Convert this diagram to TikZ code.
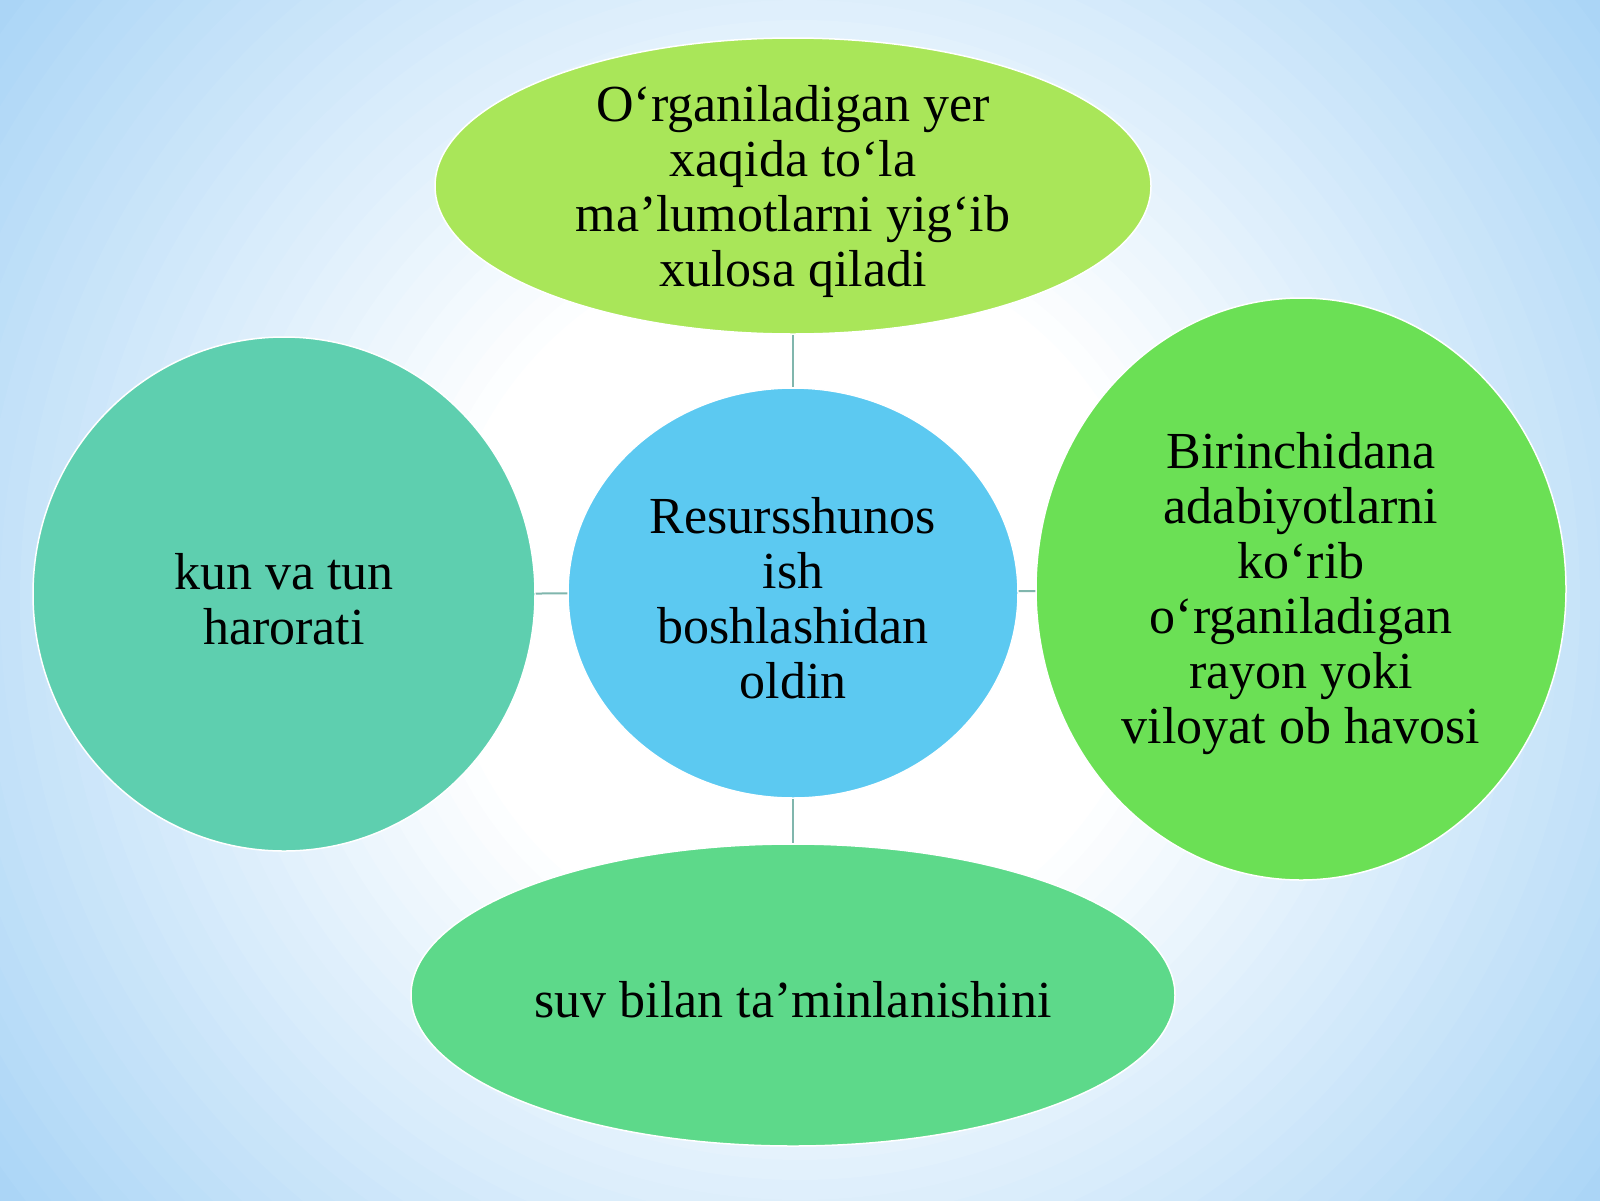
\documentclass[tikz,border=0pt]{standalone}
\usepackage{fontspec}
\setmainfont{Liberation Serif}
\usetikzlibrary{shapes.geometric}

\definecolor{limeF}{HTML}{A9E659}
\definecolor{skyF}{HTML}{5CC9F1}
\definecolor{tealF}{HTML}{5ECFAF}
\definecolor{grassF}{HTML}{6BE055}
\definecolor{mintF}{HTML}{5DD98A}
\definecolor{linkC}{HTML}{80B6AD}
\definecolor{bgEdge}{HTML}{96CBF4}

\begin{document}
\begin{tikzpicture}[x=1pt,y=-1pt,
    bubble/.style={ellipse,draw=white,line width=1.5pt,inner sep=0pt},
    words/.style={align=center,inner sep=0pt,yshift=-5pt,font=\fontsize{52}{55}\selectfont},
    link/.style={draw=linkC,line width=2pt}]
    \useasboundingbox (0,0) rectangle (1600,1200);
    % soft blue glow behind everything
    \begin{scope}
    \clip (0,0) rectangle (1600,1200);
    \fill[bgEdge] (0,0) rectangle (1600,1200);
    \foreach \i in {0,...,40}{
        \pgfmathsetmacro\rr{1.45-\i/40}
        \pgfmathsetmacro\pc{100*(\rr-0.45)}
        \fill[bgEdge!\pc!white] (800,600) ellipse [x radius=800*\rr, y radius=800*\rr];
    }
    \end{scope}

    \node[bubble,fill=limeF,minimum width=716,minimum height=296](cN) at (793,186) {};
    \node[bubble,fill=skyF,minimum width=450,minimum height=410](c) at (793,593) {};
    \node[bubble,fill=tealF,minimum width=502,minimum height=514](cW) at (284,594) {};
    \node[bubble,fill=grassF,minimum width=530,minimum height=582](cE) at (1301,589) {};
    \node[bubble,fill=mintF,minimum width=764,minimum height=302](cS) at (793,995) {};

    \node[words](tN) at (cN) {O‘rganiladigan yer\\xaqida to‘la\\ma’lumotlarni yig‘ib\\xulosa qiladi};
    \node[words](t) at (c) {Resursshunos\\ish\\boshlashidan\\oldin};
    \node[words](tW) at (cW) {kun va tun\\harorati};
    \node[words](tE) at (cE) {Birinchidana\\adabiyotlarni\\ko‘rib\\o‘rganiladigan\\rayon yoki\\viloyat ob havosi};
    \node[words](tS) at (cS) {suv bilan ta’minlanishini};

    \draw[link] (cN) -- (c);
    \draw[link] (c) -- (cS);
    \draw[link] (cW) -- (c);
    \draw[link] (c) -- (cE);
\end{tikzpicture}
\end{document}
